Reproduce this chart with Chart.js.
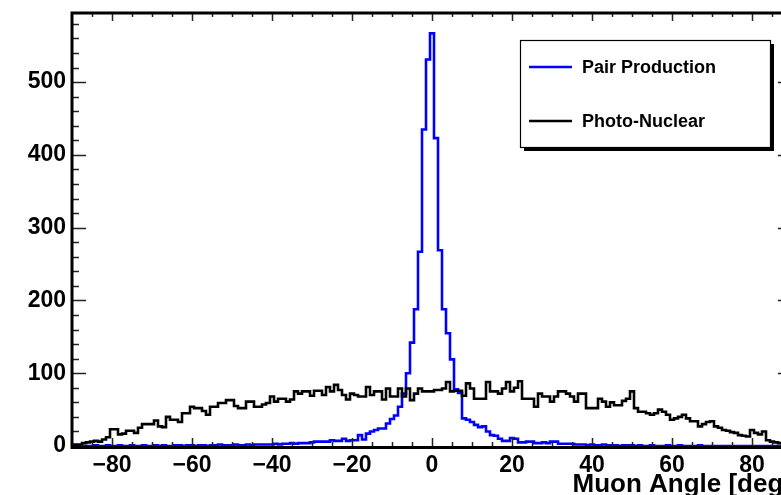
<!DOCTYPE html>
<html>
<head>
<meta charset="utf-8">
<title>Muon Angle</title>
<script src="https://cdn.jsdelivr.net/npm/chart.js@4.4.1/dist/chart.umd.min.js"></script>
<style>
  html, body { margin: 0; padding: 0; overflow: hidden; background: #fff; }
  #wrap { width: 800px; height: 495px; }
</style>
</head>
<body>
<div id="wrap"><canvas id="angleChart" width="800" height="495"></canvas></div>
<script>
// ───────── histogram data: 1° bins centred on -90 … 90 ─────────
const binCenters = Array.from({ length: 181 }, (_, i) => i - 90);

// Pair production entries per bin
const pairProduction = [
    0, 0, 0, 0, 0, 0, 1, 0, 0, 1,             // -90 … -81
    0, 0, 1, 0, 0, 1, 0, 0, 1, 0,             // -80 … -71
    0, 1, 0, 1, 0, 0, 1, 1, 0, 1,             // -70 … -61
    1, 0, 1, 1, 0, 1, 1, 2, 1, 1,             // -60 … -51
    1, 2, 1, 1, 2, 1, 2, 2, 2, 2,             // -50 … -41
    2, 3, 2, 3, 3, 4, 3, 4, 4, 4,             // -40 … -31
    5, 6, 6, 6, 6, 8, 7, 7, 10, 7,            // -30 … -21
    8, 8, 15, 9, 17, 20, 22, 24, 24, 31,      // -20 … -11
    37, 42, 54, 72, 100, 142, 188, 267, 435, 531, // -10 … -1
    567, 423, 269, 188, 155, 119, 78, 73, 38, 36, // 0 … 9
    33, 29, 26, 27, 20, 15, 14, 10, 7, 7,     // 10 … 19
    11, 10, 5, 5, 6, 6, 4, 4, 5, 4,           // 20 … 29
    6, 6, 3, 3, 3, 3, 2, 2, 2, 1,             // 30 … 39
    2, 1, 1, 2, 1, 1, 1, 0, 1, 1,             // 40 … 49
    1, 0, 1, 0, 0, 1, 0, 0, 0, 1,             // 50 … 59
    0, 0, 1, 0, 0, 0, 0, 1, 0, 0,             // 60 … 69
    0, 0, 0, 0, 0, 0, 0, 0, 0, 0,             // 70 … 79
    0, 0, 0, 0, 0, 0, 0, 0, 0, 0,             // 80 … 89
    0                                         // 90
];

// Photo-nuclear entries per bin
const photoNuclear = [
    1, 2, 2, 4, 5, 6, 7, 6, 9, 12,            // -90 … -81
    23, 23, 16, 17, 21, 21, 18, 25, 30, 30,   // -80 … -71
    30, 35, 27, 26, 40, 36, 36, 33, 45, 45,   // -70 … -61
    54, 52, 52, 48, 43, 54, 54, 59, 59, 63,   // -60 … -51
    63, 55, 52, 52, 61, 61, 54, 54, 57, 59,   // -50 … -41
    68, 61, 65, 65, 61, 64, 75, 72, 75, 75,   // -40 … -31
    69, 76, 76, 70, 81, 75, 84, 77, 70, 64,   // -30 … -21
    72, 70, 68, 68, 81, 70, 75, 75, 64, 79,   // -20 … -11
    68, 68, 79, 68, 79, 63, 72, 79, 75, 75,   // -10 … -1
    75, 77, 77, 79, 88, 75, 76, 76, 69, 86,   // 0 … 9
    79, 65, 65, 65, 88, 75, 75, 72, 79, 88,   // 10 … 19
    75, 80, 89, 65, 65, 65, 54, 72, 68, 68,   // 20 … 29
    61, 68, 75, 75, 72, 68, 61, 72, 72, 52,   // 30 … 39
    52, 52, 65, 61, 54, 60, 56, 56, 62, 65,   // 40 … 49
    75, 52, 47, 47, 45, 43, 45, 50, 47, 43,   // 50 … 59
    36, 38, 40, 43, 38, 34, 34, 27, 30, 33,   // 60 … 69
    34, 27, 25, 22, 21, 19, 18, 15, 14, 13,   // 70 … 79
    22, 18, 16, 20, 8, 6, 5, 4, 3, 2,         // 80 … 89
    1                                         // 90
];

// axis labels
const xTicks = [-80, -60, -40, -20, 0, 20, 40, 60, 80];
const yTicks = [0, 100, 200, 300, 400, 500];
const xRange = [-90, 90];
const yMax = 595;

const labelFont = { family: '"Liberation Sans", Arial, sans-serif', weight: 'bold', size: 23 };

const toPoints = vals => binCenters.map((x, i) => ({ x, y: vals[i] }));

// ─ inward tick marks + frame, ROOT style
const rootFrame = {
    id: 'rootFrame',
    afterDatasetsDraw(chart) {
        const { ctx, chartArea: a, scales: { x, y } } = chart;
        ctx.save();
        ctx.strokeStyle = '#222';
        ctx.lineWidth = 1.5;
        ctx.beginPath();
        for (let v = xRange[0] + 5; v < xRange[1]; v += 5) {
            const px = Math.round(x.getPixelForValue(v)) + 0.5;
            const len = v % 20 === 0 ? 8 : 4;
            ctx.moveTo(px, a.bottom); ctx.lineTo(px, a.bottom - len);
            ctx.moveTo(px, a.top); ctx.lineTo(px, a.top + len);
        }
        for (let v = 20; v < yMax; v += 20) {
            const py = Math.round(y.getPixelForValue(v)) + 0.5;
            const len = v % 100 === 0 ? 14 : 7;
            ctx.moveTo(a.left, py); ctx.lineTo(a.left + len, py);
            ctx.moveTo(a.right, py); ctx.lineTo(a.right - len, py);
        }
        ctx.stroke();

        ctx.strokeStyle = '#000';
        ctx.lineWidth = 3;
        ctx.beginPath();
        ctx.moveTo(a.left, a.top); ctx.lineTo(a.right, a.top);
        ctx.moveTo(a.right, a.top); ctx.lineTo(a.right, a.bottom + 3);
        ctx.moveTo(a.left, a.top - 1.5); ctx.lineTo(a.left, a.bottom + 3);
        ctx.moveTo(a.left, a.bottom + 1.5); ctx.lineTo(a.right, a.bottom + 1.5);
        ctx.stroke();
        ctx.restore();
    },
    // legend box with drop shadow
    afterDraw(chart) {
        const { ctx } = chart;
        const box = { x: 520, y: 40, w: 250, h: 107 };
        ctx.save();
        ctx.fillStyle = '#000';
        ctx.fillRect(box.x + 4, box.y + 4, box.w, box.h);
        ctx.fillStyle = '#fff';
        ctx.fillRect(box.x, box.y, box.w, box.h);
        ctx.strokeStyle = '#000';
        ctx.lineWidth = 1.2;
        ctx.strokeRect(box.x + 0.5, box.y + 0.5, box.w, box.h);

        ctx.font = 'bold 18px "Liberation Sans", Arial, sans-serif';
        ctx.textBaseline = 'middle';
        ctx.textAlign = 'left';
        const rows = [67, 121];
        chart.data.datasets.forEach((ds, i) => {
            ctx.strokeStyle = ds.borderColor;
            ctx.lineWidth = 2.5;
            ctx.beginPath();
            ctx.moveTo(529, rows[i]);
            ctx.lineTo(572, rows[i]);
            ctx.stroke();
            ctx.fillStyle = '#000';
            ctx.fillText(ds.label, 582, rows[i] + 1);
        });
        ctx.restore();
    }
};

const fmtAngle = v => (v < 0 ? '\u2212' + Math.abs(v) : String(v));

new Chart(document.getElementById('angleChart'), {
    type: 'line',
    data: {
        datasets: [
            {
                label: 'Pair Production',
                data: toPoints(pairProduction),
                borderColor: '#0000ff',
                borderWidth: 2.6,
                stepped: 'middle',
                pointRadius: 0,
                fill: false,
                order: 1
            },
            {
                label: 'Photo-Nuclear',
                data: toPoints(photoNuclear),
                borderColor: '#000000',
                borderWidth: 2.6,
                stepped: 'middle',
                pointRadius: 0,
                fill: false,
                order: 0
            }
        ]
    },
    options: {
        responsive: false,
        animation: false,
        devicePixelRatio: 1,
        layout: { padding: { top: 13, right: 8, left: 0, bottom: 0 } },
        plugins: { legend: { display: false }, tooltip: { enabled: false } },
        scales: {
            x: {
                type: 'linear',
                min: xRange[0],
                max: xRange[1],
                afterBuildTicks: s => { s.ticks = xTicks.map(value => ({ value })); },
                afterFit: s => { s.height = 49; s.paddingLeft = 0; s.paddingRight = 0; },
                grid: { display: false, drawTicks: false },
                border: { display: false },
                ticks: {
                    color: '#000',
                    font: labelFont,
                    padding: 6,
                    maxRotation: 0,
                    autoSkip: false,
                    callback: fmtAngle
                },
                title: {
                    display: true,
                    text: 'Muon Angle [deg]',
                    align: 'end',
                    color: '#000',
                    font: { family: labelFont.family, weight: 'bold', size: 26, lineHeight: 0.78 },
                    padding: { top: 0, bottom: 0 }
                }
            },
            y: {
                min: 0,
                max: yMax,
                afterBuildTicks: s => { s.ticks = yTicks.map(value => ({ value })); },
                afterFit: s => { s.width = 72; s.paddingTop = 0; s.paddingBottom = 0; },
                grid: { display: false, drawTicks: false },
                border: { display: false },
                ticks: { color: '#000', font: labelFont, padding: 6 }
            }
        }
    },
    plugins: [rootFrame]
});
</script>
</body>
</html>
